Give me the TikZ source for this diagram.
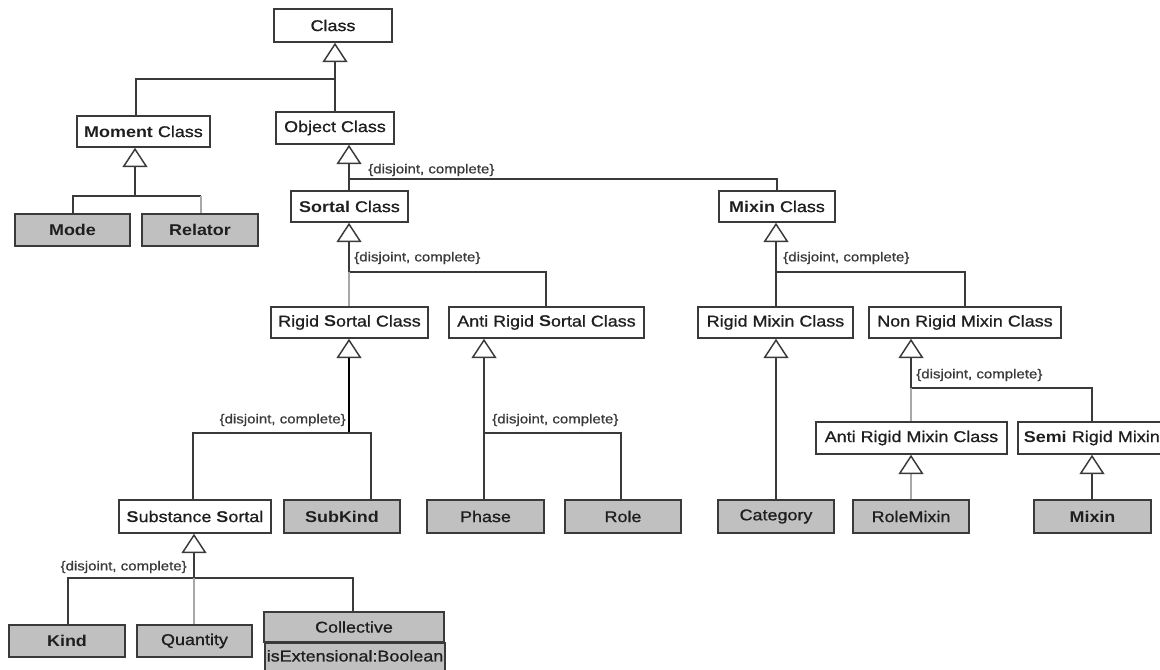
\documentclass[tikz,border=0pt]{standalone}
\usepackage{fontspec}
\setmainfont{Liberation Sans}[FakeStretch=1.15, UprightFeatures={FakeBold=0.8}]
\usetikzlibrary{arrows.meta}
\definecolor{lc}{HTML}{3A3A3A}
\definecolor{lg}{HTML}{A8A8A8}
\definecolor{leaf}{HTML}{C0C0C0}
\definecolor{tc}{HTML}{1E1E1E}
\tikzset{
  cls/.style={draw=lc, line width=1.2pt, fill=white, inner sep=0pt, font=\fontsize{11.7}{13}\selectfont, text=tc},
  leafbox/.style={cls, fill=leaf},
  ln/.style={draw=lc, line width=1.1pt},
  lnlight/.style={draw=lg, line width=1.1pt},
  lnthick/.style={draw=black, line width=1.9pt},
  gen/.style={-{Triangle[fill=white, color=lc, length=14.5pt, width=18.75pt, line width=1.1pt]}},
  dc/.style={font=\fontsize{9.8}{11}\selectfont, text=lc, inner sep=0pt},
}
\newcommand\umlbox[7]{%
  \pgfmathsetmacro\bw{(#5-#3)*0.75}%
  \pgfmathsetmacro\bh{(#6-#4)*0.75}%
  \node[#1, minimum width=\bw pt, minimum height=\bh pt] (#2) at ({(#3+#5)/2},{(#4+#6)/2}) {#7};}
\begin{document}
\begin{tikzpicture}[x=0.75pt, y=-0.75pt]
\useasboundingbox (0,0) rectangle (1160,669);
\clip (0,0) rectangle (1160,669);
% class boxes
\umlbox{cls}{ClassC}{274}{9}{392}{42}{Class}
\umlbox{cls}{MomentC}{77}{116}{210}{147}{\textbf{Moment} Class}
\umlbox{cls}{ObjectC}{276}{112}{394}{144}{Object Class}
\umlbox{leafbox}{Mode}{15}{214}{130}{246}{\textbf{Mode}}
\umlbox{leafbox}{Relator}{142}{214}{258}{246}{\textbf{Relator}}
\umlbox{cls}{SortalC}{291}{191}{408}{222}{\textbf{Sortal} Class}
\umlbox{cls}{MixinC}{719}{191}{835}{222}{\textbf{Mixin} Class}
\umlbox{cls}{RS}{271}{307}{428}{338}{Rigid \textbf{S}ortal Class}
\umlbox{cls}{ARS}{449}{307}{644}{338}{Anti Rigid \textbf{S}ortal Class}
\umlbox{cls}{RM}{698}{307}{853}{338}{Rigid Mixin Class}
\umlbox{cls}{NRM}{869}{307}{1061}{338}{Non Rigid Mixin Class}
\umlbox{cls}{ARM}{816}{422}{1007}{454}{Anti Rigid Mixin Class}
\node[cls, anchor=west, minimum width=195pt, minimum height=24pt, text width=190pt, align=left, inner xsep=4.5pt] (SRM) at (1017,438) {\textbf{Semi} Rigid Mixin};
\umlbox{cls}{Subst}{119}{500}{271}{533}{\textbf{S}ubstance \textbf{S}ortal}
\umlbox{leafbox}{SubKind}{284}{500}{400}{533}{\textbf{SubKind}}
\umlbox{leafbox}{Phase}{427}{500}{544}{533}{Phase}
\umlbox{leafbox}{Role}{565}{500}{681}{533}{Role}
\umlbox{leafbox}{Category}{718}{500}{834}{533}{Category}
\umlbox{leafbox}{RoleMixin}{853}{500}{969}{533}{RoleMixin}
\umlbox{leafbox}{Mixin}{1034}{500}{1151}{533}{\textbf{Mixin}}
\umlbox{leafbox}{Kind}{9}{625}{125}{657}{\textbf{Kind}}
\umlbox{leafbox}{Quantity}{137}{625}{252}{657}{Quantity}
\umlbox{leafbox}{Coll}{264}{612}{444}{642}{Collective}
\node[leafbox, anchor=north west, minimum width=135pt, text width=132pt, align=left, inner xsep=1.5pt, inner ysep=1.5pt, text height=12.5pt, text depth=16pt] (CollAttr) at (264,642) {isExtensional:Boolean};
% Class generalization
\coordinate (c0) at (335,79);
\coordinate (c1) at (136,79);
\draw[ln, gen] (c0) -- (ClassC.south -| c0);
\draw[ln] (MomentC.north -| c1) -- (c1) -- (c0) -- (ObjectC.north -| c0);
% Moment
\coordinate (m0) at (135,196);
\coordinate (m1) at (73,196);
\coordinate (m2) at (201,196);
\draw[ln, gen] (m0) -- (MomentC.south -| m0);
\draw[ln] (Mode.north -| m1) -- (m1) -- (m2);
\draw[lnlight] (m2) -- (Relator.north -| m2);
% Object
\coordinate (o0) at (349,179);
\coordinate (o1) at (777,179);
\draw[ln, gen] (SortalC.north -| o0) -- (ObjectC.south -| o0);
\draw[ln] (o0) -- (o1) -- (MixinC.north -| o1);
\node[dc, anchor=west] (lo) at (368,170) {\{disjoint, complete\}};
% Sortal
\coordinate (s0) at (349,272);
\coordinate (s1) at (546,272);
\draw[ln, gen] (s0) -- (SortalC.south -| s0);
\draw[ln] (s0) -- (s1) -- (ARS.north -| s1);
\draw[lnlight] (s0) -- (RS.north -| s0);
\node[dc, anchor=west] (ls) at (354,258) {\{disjoint, complete\}};
% Mixin
\coordinate (x0) at (776,272);
\coordinate (x1) at (965,272);
\draw[ln, gen] (RM.north -| x0) -- (MixinC.south -| x0);
\draw[ln] (x0) -- (x1) -- (NRM.north -| x1);
\node[dc, anchor=west] (lx) at (783,258) {\{disjoint, complete\}};
% Rigid Sortal
\coordinate (r0) at (349,433);
\coordinate (r1) at (193,433);
\coordinate (r2) at (371,433);
\draw[lnthick, gen] (r0) -- (RS.south -| r0);
\draw[ln] (Subst.north -| r1) -- (r1) -- (r2) -- (SubKind.north -| r2);
\node[dc, anchor=east] (lr) at (346,420) {\{disjoint, complete\}};
% Anti Rigid Sortal
\coordinate (a0) at (484,433);
\coordinate (a1) at (621,433);
\draw[ln, gen] (Phase.north -| a0) -- (ARS.south -| a0);
\draw[ln] (a0) -- (a1) -- (Role.north -| a1);
\node[dc, anchor=west] (la) at (492,420) {\{disjoint, complete\}};
% Rigid Mixin
\draw[ln, gen] (Category.north -| x0) -- (RM.south -| x0);
% Non Rigid Mixin
\coordinate (n0) at (911,388);
\coordinate (n1) at (1092,388);
\draw[ln, gen] (n0) -- (NRM.south -| n0);
\draw[ln] (n0) -- (n1) -- (SRM.north -| n1);
\draw[lnlight] (n0) -- (ARM.north -| n0);
\node[dc, anchor=west] (lnr) at (916,375) {\{disjoint, complete\}};
% Anti Rigid Mixin / Semi Rigid Mixin
\draw[lnlight, gen] (RoleMixin.north -| n0) -- (ARM.south -| n0);
\draw[ln, gen] (Mixin.north -| n1) -- (SRM.south -| n1);
% Substance Sortal
\coordinate (b0) at (194,578);
\coordinate (b1) at (68,578);
\coordinate (b2) at (353,578);
\draw[ln, gen] (b0) -- (Subst.south -| b0);
\draw[ln] (Kind.north -| b1) -- (b1) -- (b2) -- (Coll.north -| b2);
\draw[lnlight] (b0) -- (Quantity.north -| b0);
\node[dc, anchor=east] (lb) at (187,567) {\{disjoint, complete\}};
\end{tikzpicture}
\end{document}
